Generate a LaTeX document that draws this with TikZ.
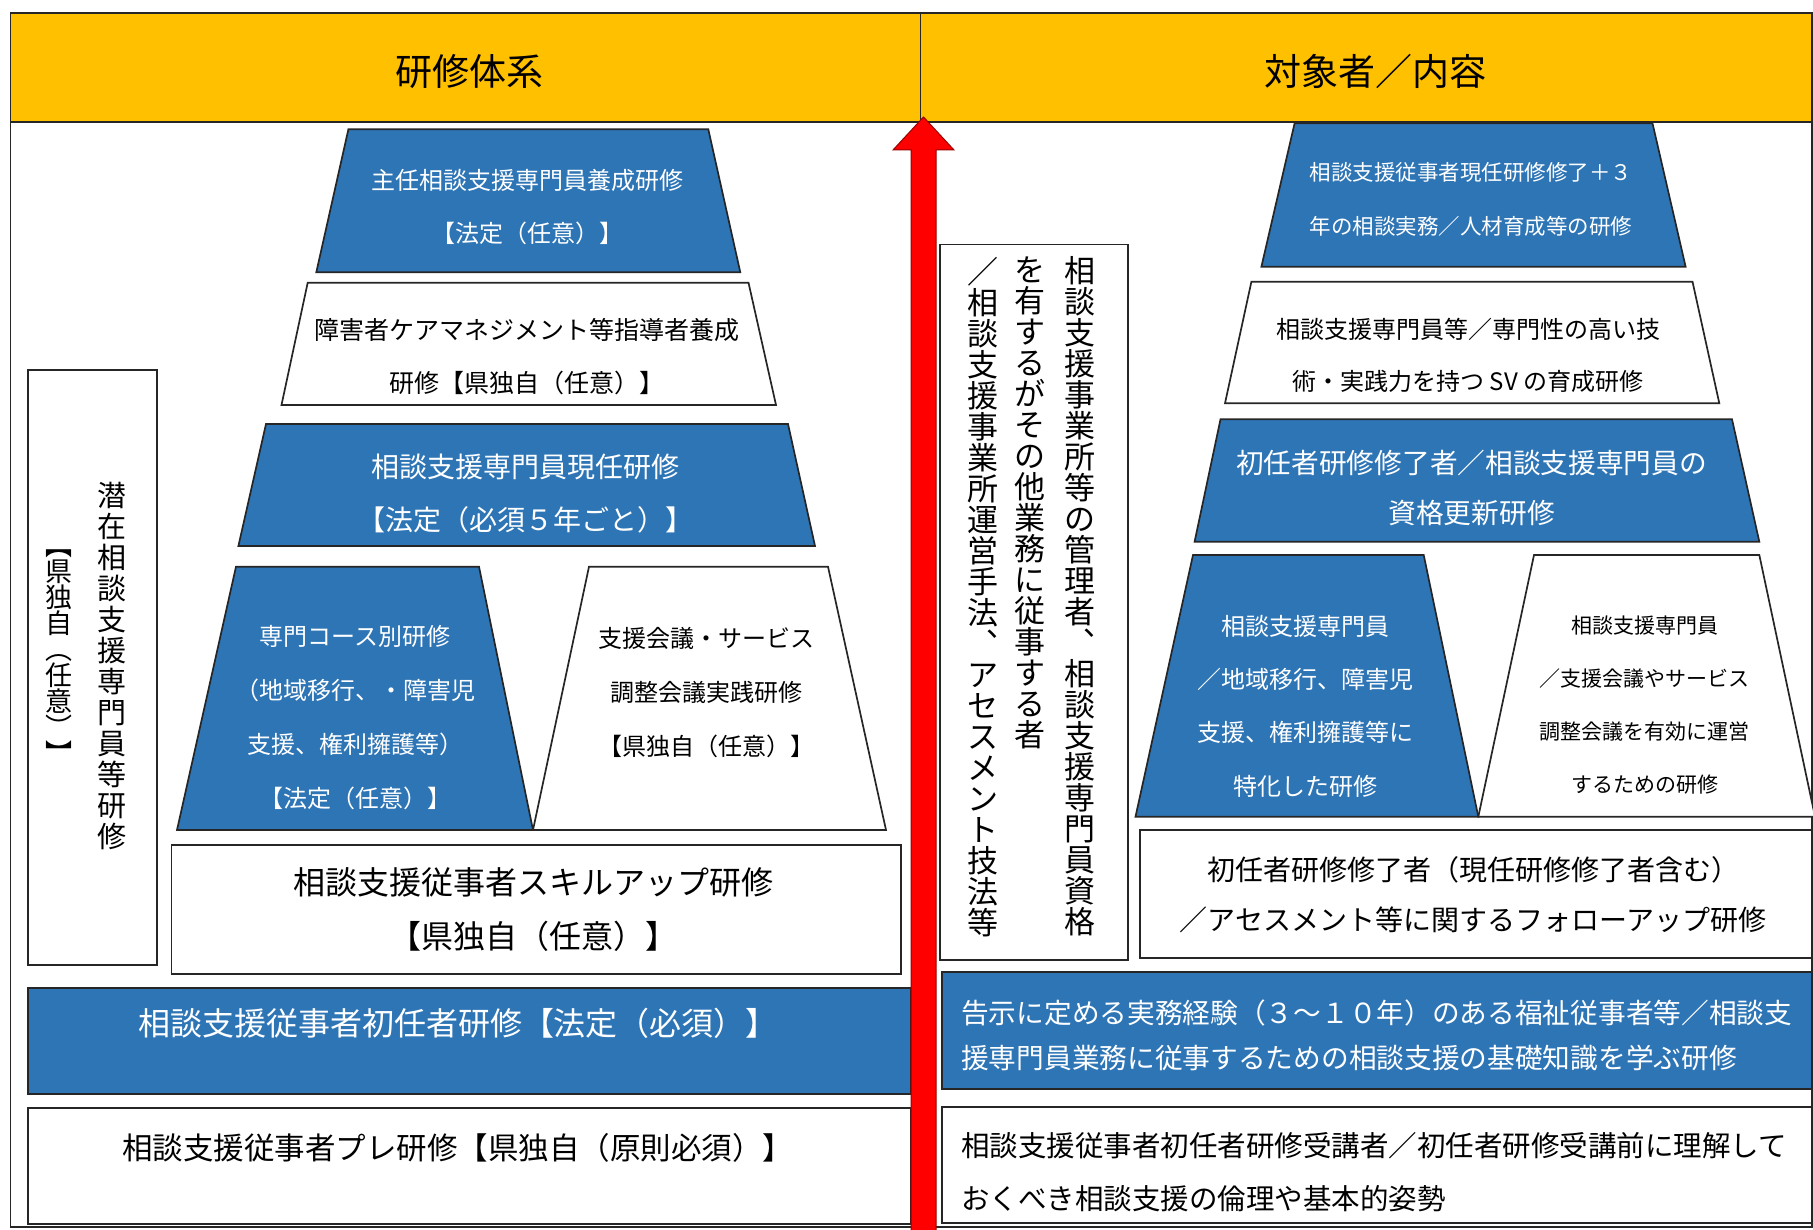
\documentclass[tikz,border=0pt]{standalone}
\usepackage{fontspec}
\newfontfamily\jp{Noto Sans CJK JP}
\definecolor{hdr}{HTML}{FFC000}
\definecolor{boxblue}{HTML}{2E75B6}
\definecolor{arrowred}{HTML}{FF0000}
\newcommand\jpfs[2]{\fontsize{#1}{#2}\selectfont}
\makeatletter
\newcommand\vtxt[2]{\vbox{\baselineskip=#1\lineskiplimit=-1000pt\lineskip=0pt\@tfor\vt@c:=#2\do{\hbox to 1em{\hss\vt@c\hss}}}}
\makeatother
\tikzset{
  lw/.style={line width=1.7},
  bluebox/.style={lw, fill=boxblue, draw=black!85},
  whitebox/.style={lw, fill=white, draw=black!85},
  wtxt/.style={text=white, align=center, inner sep=0},
  btxt/.style={text=black, align=center, inner sep=0},
  vcol/.style={anchor=north, inner sep=0, text=black},
}
\begin{document}
\begin{tikzpicture}[x=1pt,y=-1pt]
\useasboundingbox (0,0) rectangle (1813,1230);
\fill[white] (0,0) rectangle (1813,1230);
% header
\fill[hdr] (10.6,13) rectangle (1812,121.7);
\draw[lw, draw=black!85] (10.6,13) rectangle (1812,1227);
\draw[lw, draw=black!85] (10.6,121.7) -- (1812,121.7);
\draw[lw, draw=black!85] (920.5,13) -- (920.5,121.7);
\node[btxt, font=\jp\jpfs{37}{37}] (h1) at (469.5,71.7) {研修体系};
\node[btxt, font=\jp\jpfs{37}{37}] (h2) at (1375.8,71.7) {対象者／内容};

% ---------- left column ----------
\draw[bluebox] (348.4,129.3) -- (708.3,129.3) -- (740.3,272.3) -- (316.3,272.3) -- cycle;
\node[wtxt, font=\jp\jpfs{24}{53}] (t1) at (527,206.7) {主任相談支援専門員養成研修\\【法定（任意）】};

\draw[whitebox] (307.7,282.7) -- (748.5,282.7) -- (776,405) -- (281.5,405) -- cycle;
\node[btxt, font=\jp\jpfs{25}{53}] (t2) at (526.5,356.5) {障害者ケアマネジメント等指導者養成\\研修【県独自（任意）】};

\draw[bluebox] (266,424) -- (788,424) -- (815,546) -- (238.4,546) -- cycle;
\node[wtxt, font=\jp\jpfs{28}{53}] (t3) at (525,493.3) {相談支援専門員現任研修\\【法定（必須５年ごと）】};

\draw[bluebox] (236,566.7) -- (479,566.7) -- (533,830) -- (177,830) -- cycle;
\node[wtxt, font=\jp\jpfs{24}{54}] (t4) at (355,717.5) {専門コース別研修\\（地域移行、・障害児\\支援、権利擁護等）\\【法定（任意）】};

\draw[whitebox] (589,566.7) -- (828,566.7) -- (886,830) -- (533,830) -- cycle;
\node[btxt, font=\jp\jpfs{24}{54}] (t5) at (706,692.8) {支援会議・サービス\\調整会議実践研修\\【県独自（任意）】};

\draw[whitebox] (171.4,845) rectangle (901,974);
\node[btxt, font=\jp\jpfs{32}{54}] (t6) at (533.6,910) {相談支援従事者スキルアップ研修\\【県独自（任意）】};

\draw[whitebox] (28,370) rectangle (157,965);
\node[vcol, font=\jp\jpfs{29}{31}] (v0a) at (111.5,481.7) {\vtxt{31pt}{潜在相談支援専門員等研修}};
\node[vcol, font=\jp\jpfs{27}{26}] (v0b) at (58.7,550) {\vtxt{26pt}{︻県独自︵任意︶︼}};

\draw[bluebox] (28,987.7) rectangle (911,1094);
\node[wtxt, font=\jp\jpfs{32}{40}] (t8) at (458,1023.3) {相談支援従事者初任者研修【法定（必須）】};

\draw[whitebox] (28,1108) rectangle (911,1224);
\node[btxt, font=\jp\jpfs{30.5}{40}] (t9) at (457.8,1148.3) {相談支援従事者プレ研修【県独自（原則必須）】};

% ---------- right column ----------
\draw[whitebox] (940,244.5) rectangle (1128,960);
\node[vcol, font=\jp\jpfs{31}{31}] (v1) at (1080,256.6) {\vtxt{31pt}{相談支援事業所等の管理者︑相談支援専門員資格}};
\node[vcol, font=\jp\jpfs{31}{31}] (v2) at (1030,256.6) {\vtxt{31pt}{を有するがその他業務に従事する者}};
\node[vcol, font=\jp\jpfs{31}{31}] (v3) at (983,256.6) {\vtxt{31pt}{／相談支援事業所運営手法︑アセスメント技法等}};

\draw[bluebox] (1294.6,123.3) -- (1652.5,123.3) -- (1685.6,266.7) -- (1261.4,266.7) -- cycle;
\node[wtxt, font=\jp\jpfs{21.5}{54}] (r1) at (1471,199.7) {相談支援従事者現任研修修了＋３\\年の相談実務／人材育成等の研修};

\draw[whitebox] (1251.4,281.7) -- (1692.5,281.7) -- (1719.3,403.3) -- (1225,403.3) -- cycle;
\node[btxt, font=\jp\jpfs{24}{52}] (r2) at (1468,355.8) {相談支援専門員等／専門性の高い技\\術・実践力を持つ SV の育成研修};

\draw[bluebox] (1220.5,419.3) -- (1732,419.3) -- (1759.3,541.7) -- (1194.6,541.7) -- cycle;
\node[wtxt, font=\jp\jpfs{27.7}{50}] (r3) at (1471.6,488.3) {初任者研修修了者／相談支援専門員の\\資格更新研修};

\draw[bluebox] (1193,555) -- (1423.7,555) -- (1478.3,816.7) -- (1135.5,816.7) -- cycle;
\node[wtxt, font=\jp\jpfs{24}{53.3}] (r4) at (1305.7,706) {相談支援専門員\\／地域移行、障害児\\支援、権利擁護等に\\特化した研修};

\draw[whitebox] (1534,555) -- (1759.3,555) -- (1815,816.7) -- (1478.3,816.7) -- cycle;
\node[btxt, font=\jp\jpfs{21}{53}] (r5) at (1644.5,705) {相談支援専門員\\／支援会議やサービス\\調整会議を有効に運営\\するための研修};

\draw[whitebox] (1140,830) rectangle (1812,958.3);
\node[btxt, font=\jp\jpfs{28}{50}] (r6) at (1473,895) {初任者研修修了者（現任研修修了者含む）\\／アセスメント等に関するフォローアップ研修};

\draw[bluebox] (942,971.7) rectangle (1812,1089.3);
\node[wtxt, align=left, anchor=west, font=\jp\jpfs{27.7}{45}] (r7) at (961,1035.8) {告示に定める実務経験（３～１０年）のある福祉従事者等／相談支\\援専門員業務に従事するための相談支援の基礎知識を学ぶ研修};

\draw[whitebox] (942,1107) rectangle (1812,1223);
\node[btxt, align=left, anchor=west, font=\jp\jpfs{28.5}{53}] (r8) at (961,1171.7) {相談支援従事者初任者研修受講者／初任者研修受講前に理解して\\おくべき相談支援の倫理や基本的姿勢};

% ---------- red arrow ----------
\coordinate (abot) at (923.5,1232);
\coordinate (atip) at (923.5,117);
\fill[arrowred, draw=red!60!black, line width=1] (911,1235) -- (911,150) -- (893,150) -- (atip) -- (954,150) -- (936,150) -- (936,1235) -- cycle;
\end{tikzpicture}
\end{document}
